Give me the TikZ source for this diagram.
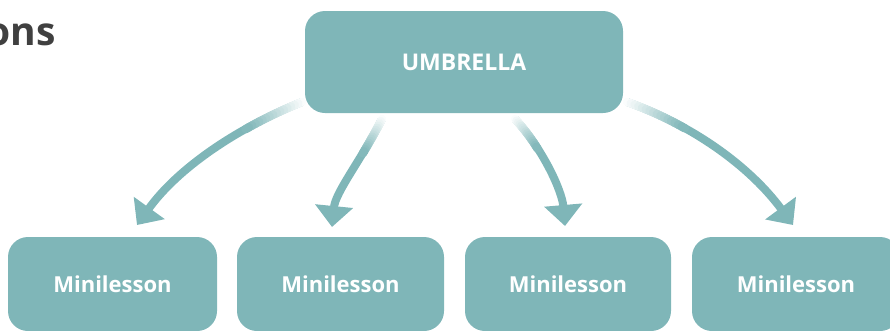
\documentclass[tikz,border=0pt]{standalone}
\usepackage{fontspec}
\setmainfont{Open Sans}
\usetikzlibrary{arrows.meta}
\definecolor{boxteal}{HTML}{7FB6B8}
\definecolor{titlegrey}{HTML}{404040}
\tikzset{
  box/.style={rounded corners=20pt, fill=boxteal, draw=none, text=white,
    font=\bfseries\fontsize{22}{26}\selectfont, align=center, inner sep=0pt},
  leafbox/.style={box, minimum height=94pt},
  arrowline/.style={draw=boxteal, line width=8pt, -{Triangle[width=37pt,length=21pt]}},
}
\newcommand\fadearrow[4]{%
  \draw[arrowline] (#1) .. controls (#2) and (#3) .. (#4);
  \foreach \kk [evaluate=\kk as \fpos using \kk*0.3/16] in {0,...,16}{
    \path (#1) .. controls (#2) and (#3) .. (#4) coordinate[pos=\fpos] (fd\kk);
  }
  \foreach \kk [evaluate=\kk as \kn using int(\kk+1),
                evaluate=\kk as \kp using int((\kk+0.5)*100/16)] in {0,...,15}{
    \draw[line width=8.4pt, line cap=round, draw=boxteal!\kp!white] (fd\kk) -- (fd\kn);
  }
}
\begin{document}
\begin{tikzpicture}[x=1pt,y=-1pt]
\useasboundingbox (0,0) rectangle (890,330);
% connector coordinates
\coordinate (s1) at (302,102);   \coordinate (a1) at (237,128);
\coordinate (b1) at (178,168);   \coordinate (e1) at (137,225);
\coordinate (s2) at (382,119);   \coordinate (a2) at (361.7,159);
\coordinate (b2) at (335.5,192); \coordinate (e2) at (332,227);
\coordinate (s3) at (515,119);   \coordinate (a3) at (543,149);
\coordinate (b3) at (562,191);   \coordinate (e3) at (565,226);
\coordinate (s4) at (627,102);   \coordinate (a4) at (695,126);
\coordinate (b4) at (751,168);   \coordinate (e4) at (793,225);
\fadearrow{s1}{a1}{b1}{e1}
\fadearrow{s2}{a2}{b2}{e2}
\fadearrow{s3}{a3}{b3}{e3}
\fadearrow{s4}{a4}{b4}{e4}
% title fragment
\node[anchor=base east, inner sep=0pt, text=titlegrey,
      font=\bfseries\fontsize{39}{46}\selectfont] (title) at (56,45) {ons};
% boxes
\node[box, minimum width=318pt, minimum height=102pt,
      font=\bfseries\fontsize{23}{27}\selectfont] (umb) at (464,62) {UMBRELLA};
\node[leafbox, minimum width=209pt] (m1) at (112.5,284) {Minilesson};
\node[leafbox, minimum width=207pt] (m2) at (340.5,284) {Minilesson};
\node[leafbox, minimum width=206pt] (m3) at (568,284) {Minilesson};
\node[leafbox, minimum width=208pt] (m4) at (796,284) {Minilesson};
\end{tikzpicture}
\end{document}
